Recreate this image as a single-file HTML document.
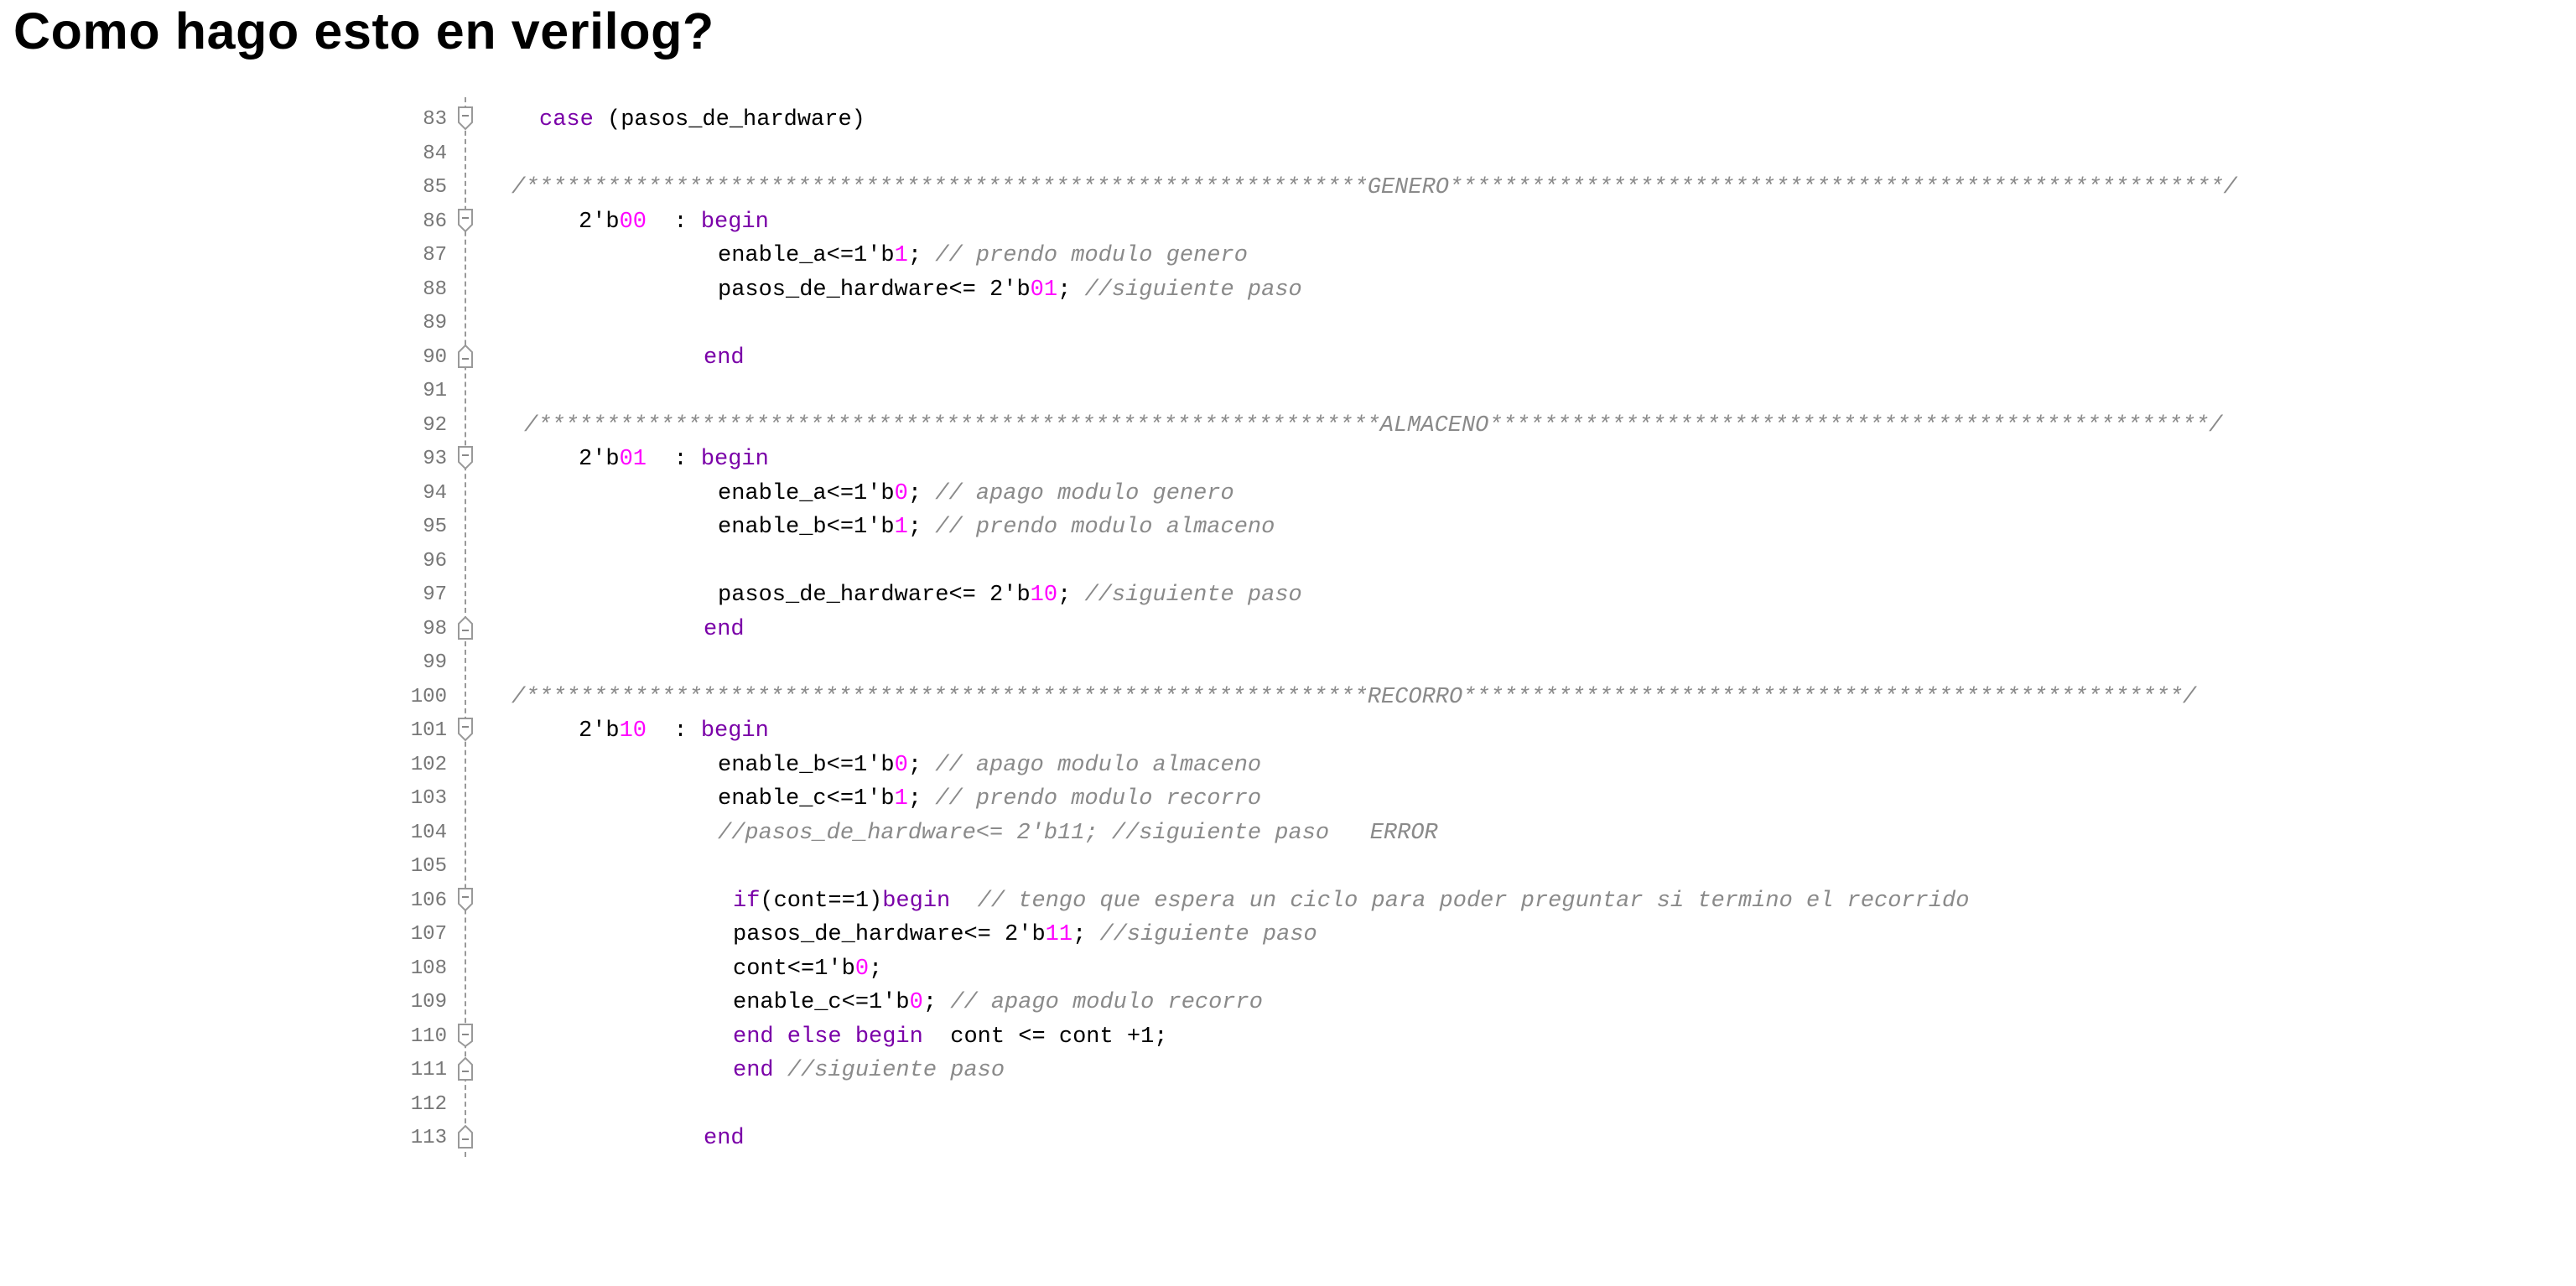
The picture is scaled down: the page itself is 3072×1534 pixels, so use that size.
<!DOCTYPE html>
<html><head><meta charset="utf-8">
<style>
html,body{margin:0;padding:0;background:#fff;width:3072px;height:1534px;overflow:hidden;position:relative}
h1{position:absolute;left:16px;top:2px;margin:0;font:bold 61px "Liberation Sans",sans-serif;color:#000;letter-spacing:0.6px}
#code{position:absolute;left:0;top:122px;width:3072px}
.r{position:relative;height:40.5px}
.n{position:absolute;right:2539px;top:7px;font:24px "Liberation Mono",monospace;color:#777;line-height:27px}
.c{position:absolute;top:6px;font:27px "Liberation Mono",monospace;color:#000;white-space:pre;line-height:30px}
.k{color:#7a00a8}.m{color:#ff00ff}.g{color:#8a8a8a;font-style:italic}
.f{position:absolute;left:545px;top:4px;width:20px;height:30px}
#dash{position:absolute;left:554px;top:116px;height:1264px;border-left:2px dashed #999}
</style></head><body>
<h1>Como hago esto en verilog?</h1>
<div id="dash"></div>
<div id="code">
<div class="r"><span class="n">83</span><svg class="f" viewBox="0 0 20 30"><path d="M2 2H18V20L10 28L2 20Z" fill="#fff" stroke="#999" stroke-width="2"/><path d="M6 12H14" stroke="#888" stroke-width="2"/></svg><span class="c" style="left:643px"><span class="k">case</span> (pasos_de_hardware)</span></div>
<div class="r"><span class="n">84</span></div>
<div class="r"><span class="n">85</span><span class="c g" style="left:610px">/**************************************************************GENERO*********************************************************/</span></div>
<div class="r"><span class="n">86</span><svg class="f" viewBox="0 0 20 30"><path d="M2 2H18V20L10 28L2 20Z" fill="#fff" stroke="#999" stroke-width="2"/><path d="M6 12H14" stroke="#888" stroke-width="2"/></svg><span class="c" style="left:690px">2'b<span class="m">00</span>  : <span class="k">begin</span></span></div>
<div class="r"><span class="n">87</span><span class="c" style="left:856px">enable_a&lt;=1'b<span class="m">1</span>; <span class="g">// prendo modulo genero</span></span></div>
<div class="r"><span class="n">88</span><span class="c" style="left:856px">pasos_de_hardware&lt;= 2'b<span class="m">01</span>; <span class="g">//siguiente paso</span></span></div>
<div class="r"><span class="n">89</span></div>
<div class="r"><span class="n">90</span><svg class="f" viewBox="0 0 20 30"><path d="M2 28H18V10L10 2L2 10Z" fill="#fff" stroke="#999" stroke-width="2"/><path d="M6 18H14" stroke="#888" stroke-width="2"/></svg><span class="c" style="left:839px"><span class="k">end</span></span></div>
<div class="r"><span class="n">91</span></div>
<div class="r"><span class="n">92</span><span class="c g" style="left:625px">/**************************************************************ALMACENO*****************************************************/</span></div>
<div class="r"><span class="n">93</span><svg class="f" viewBox="0 0 20 30"><path d="M2 2H18V20L10 28L2 20Z" fill="#fff" stroke="#999" stroke-width="2"/><path d="M6 12H14" stroke="#888" stroke-width="2"/></svg><span class="c" style="left:690px">2'b<span class="m">01</span>  : <span class="k">begin</span></span></div>
<div class="r"><span class="n">94</span><span class="c" style="left:856px">enable_a&lt;=1'b<span class="m">0</span>; <span class="g">// apago modulo genero</span></span></div>
<div class="r"><span class="n">95</span><span class="c" style="left:856px">enable_b&lt;=1'b<span class="m">1</span>; <span class="g">// prendo modulo almaceno</span></span></div>
<div class="r"><span class="n">96</span></div>
<div class="r"><span class="n">97</span><span class="c" style="left:856px">pasos_de_hardware&lt;= 2'b<span class="m">10</span>; <span class="g">//siguiente paso</span></span></div>
<div class="r"><span class="n">98</span><svg class="f" viewBox="0 0 20 30"><path d="M2 28H18V10L10 2L2 10Z" fill="#fff" stroke="#999" stroke-width="2"/><path d="M6 18H14" stroke="#888" stroke-width="2"/></svg><span class="c" style="left:839px"><span class="k">end</span></span></div>
<div class="r"><span class="n">99</span></div>
<div class="r"><span class="n">100</span><span class="c g" style="left:610px">/**************************************************************RECORRO*****************************************************/</span></div>
<div class="r"><span class="n">101</span><svg class="f" viewBox="0 0 20 30"><path d="M2 2H18V20L10 28L2 20Z" fill="#fff" stroke="#999" stroke-width="2"/><path d="M6 12H14" stroke="#888" stroke-width="2"/></svg><span class="c" style="left:690px">2'b<span class="m">10</span>  : <span class="k">begin</span></span></div>
<div class="r"><span class="n">102</span><span class="c" style="left:856px">enable_b&lt;=1'b<span class="m">0</span>; <span class="g">// apago modulo almaceno</span></span></div>
<div class="r"><span class="n">103</span><span class="c" style="left:856px">enable_c&lt;=1'b<span class="m">1</span>; <span class="g">// prendo modulo recorro</span></span></div>
<div class="r"><span class="n">104</span><span class="c g" style="left:856px">//pasos_de_hardware&lt;= 2'b11; //siguiente paso   ERROR</span></div>
<div class="r"><span class="n">105</span></div>
<div class="r"><span class="n">106</span><svg class="f" viewBox="0 0 20 30"><path d="M2 2H18V20L10 28L2 20Z" fill="#fff" stroke="#999" stroke-width="2"/><path d="M6 12H14" stroke="#888" stroke-width="2"/></svg><span class="c" style="left:874px"><span class="k">if</span>(cont==1)<span class="k">begin</span>  <span class="g">// tengo que espera un ciclo para poder preguntar si termino el recorrido</span></span></div>
<div class="r"><span class="n">107</span><span class="c" style="left:874px">pasos_de_hardware&lt;= 2'b<span class="m">11</span>; <span class="g">//siguiente paso</span></span></div>
<div class="r"><span class="n">108</span><span class="c" style="left:874px">cont&lt;=1'b<span class="m">0</span>;</span></div>
<div class="r"><span class="n">109</span><span class="c" style="left:874px">enable_c&lt;=1'b<span class="m">0</span>; <span class="g">// apago modulo recorro</span></span></div>
<div class="r"><span class="n">110</span><svg class="f" viewBox="0 0 20 30"><path d="M2 2H18V22L10 28L2 22Z" fill="#fff" stroke="#999" stroke-width="2"/><path d="M6 14H14" stroke="#888" stroke-width="2"/></svg><span class="c" style="left:874px"><span class="k">end else begin</span>  cont &lt;= cont +1;</span></div>
<div class="r"><span class="n">111</span><svg class="f" viewBox="0 0 20 30"><path d="M2 28H18V10L10 2L2 10Z" fill="#fff" stroke="#999" stroke-width="2"/><path d="M6 18H14" stroke="#888" stroke-width="2"/></svg><span class="c" style="left:874px"><span class="k">end</span> <span class="g">//siguiente paso</span></span></div>
<div class="r"><span class="n">112</span></div>
<div class="r"><span class="n">113</span><svg class="f" viewBox="0 0 20 30"><path d="M2 28H18V10L10 2L2 10Z" fill="#fff" stroke="#999" stroke-width="2"/><path d="M6 18H14" stroke="#888" stroke-width="2"/></svg><span class="c" style="left:839px"><span class="k">end</span></span></div>
</div>
</body></html>
